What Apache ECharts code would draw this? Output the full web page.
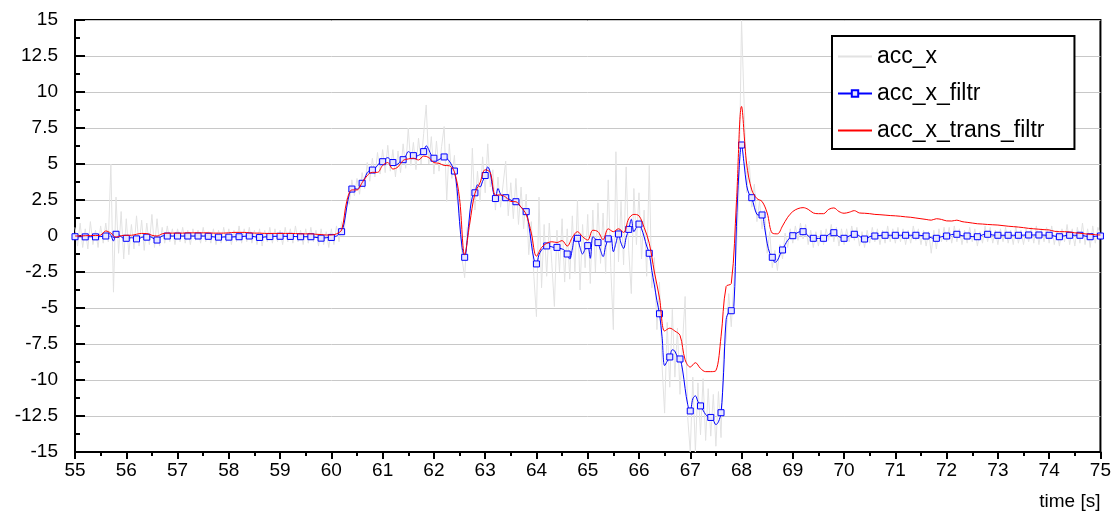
<!DOCTYPE html>
<html>
<head>
<meta charset="utf-8">
<script src="https://cdn.jsdelivr.net/npm/echarts@6/dist/echarts.min.js"></script>
<style>
html,body{margin:0;padding:0;background:#fff;}
#chart{width:1114px;height:516px;}
</style>
</head>
<body>
<div id="chart"></div>
<script>
// ---- data ----
const seriesNames = ['acc_x', 'acc_x_filtr', 'acc_x_trans_filtr'];
const xTicks = [55, 56, 57, 58, 59, 60, 61, 62, 63, 64, 65, 66, 67, 68, 69, 70, 71, 72, 73, 74, 75];
const yTicks = [-15, -12.5, -10, -7.5, -5, -2.5, 0, 2.5, 5, 7.5, 10, 12.5, 15];

const sampleStart = 55;       // s
const rawStep = 0.05;         // s, acc_x and acc_x_filtr
const transStep = 0.1;        // s, acc_x_trans_filtr
const markerEvery = 4;        // acc_x_filtr markers every 0.2 s

// acc_x (raw), one row per second, 0.05 s apart
const accX = [
  0.6,-0.7,0.9,-0.8,0.5,-0.9,1.0,-0.6,0.4,-0.8,0.7,-0.5,0.9,-0.4,5.0,-3.9,2.7,-1.2,1.7,-1.6,
  1.2,-1.3,0.8,-0.9,1.4,-0.7,1.1,-1.0,0.9,-0.6,1.5,-0.8,1.2,-0.7,0.6,-0.5,0.7,-0.4,0.5,-0.6,
  0.5,-0.4,0.6,-0.5,0.4,-0.6,0.5,-0.3,0.4,-0.5,0.6,-0.4,0.3,-0.5,0.5,-0.6,0.4,-0.5,0.6,-0.4,
  0.5,-0.6,0.4,-0.4,0.7,-0.5,0.5,-0.4,0.6,-0.5,0.4,-0.6,0.5,-0.7,0.4,-0.4,0.6,-0.5,0.5,-0.4,
  0.4,-0.6,0.6,-0.4,0.5,-0.5,0.7,-0.4,0.4,-0.6,0.5,-0.5,0.6,-0.4,0.4,-0.7,0.5,-0.6,0.3,-0.8,
  0.5,-0.6,0.7,-0.4,1.0,0.2,2.6,2.2,3.9,2.8,4.0,2.9,4.4,3.3,5.1,3.8,5.4,4.1,5.8,4.3,
  6.0,4.4,6.3,4.5,6.0,4.1,5.9,4.4,6.4,4.7,7.5,4.9,6.5,4.6,6.8,5.0,7.1,9.1,5.0,6.9,
  4.3,6.6,4.5,6.2,7.6,2.4,6.4,4.0,5.6,2.5,1.8,-1.6,-2.9,0.6,0.8,6.1,1.8,4.5,2.4,5.5,
  3.0,6.4,3.4,4.6,1.8,4.1,2.0,3.6,5.2,1.4,3.7,1.2,4.0,0.8,3.4,0.5,2.9,-1.3,1.0,-2.8,
  -5.6,2.7,-3.6,0.8,-2.8,0.9,-1.9,-4.9,0.4,-2.5,1.2,-3.2,0.5,-3.0,1.4,-2.6,2.5,-3.75,0.8,-2.2,
  1.5,-3.3,1.8,-2.5,2.3,-1.9,1.6,-2.6,3.9,-2.2,-6.5,5.85,-1.8,2.4,-2.0,4.8,-1.0,-4.0,3.3,-0.6,
  3.0,-1.6,1.8,-2.8,4.9,-3.6,-1.5,-6.5,-3.2,-9.0,-12.3,-6.0,-10.5,-5.1,-9.8,-6.4,-11.0,-7.4,-4.2,-12.6,
  -15.0,-9.8,-15.0,-10.2,-13.8,-9.9,-14.2,-10.6,-13.9,-11.0,-14.6,-10.8,-14.0,-8.0,-7.2,-4.0,-6.3,-3.2,-1.0,3.0,
  15.0,9.2,3.0,5.2,2.0,3.6,1.0,2.4,0.5,1.8,-1.2,0.3,-2.2,-1.0,-2.4,-0.6,-1.6,0.2,-0.8,0.5,
  -0.5,0.7,-0.3,0.9,-0.2,0.8,-0.6,0.4,-0.8,0.3,-0.7,0.4,-0.6,0.5,-0.3,0.8,-0.4,0.6,-0.7,0.5,
  -0.6,0.5,-0.4,0.7,-0.3,0.6,-0.7,0.3,-0.8,0.4,-0.5,0.6,-0.4,0.5,-0.6,0.4,-0.5,0.7,-0.4,0.5,
  -0.5,0.6,-0.4,0.5,-0.6,0.4,-0.5,0.7,-0.3,0.5,-0.6,0.4,-0.7,0.3,-1.2,0.4,-0.9,0.5,-0.4,0.6,
  -0.4,0.6,-0.5,0.7,-0.4,0.5,-0.6,0.4,-0.5,0.6,-0.4,0.5,-0.7,0.3,-0.5,0.7,-0.4,0.6,-0.5,0.4,
  -0.6,0.5,-0.4,0.6,-0.5,0.4,-0.6,0.7,-0.5,0.4,-0.6,0.5,-0.4,0.6,-0.5,0.7,-0.6,0.5,-0.4,0.6,
  -0.5,0.7,-0.6,0.4,-0.7,0.5,-0.4,0.8,-0.6,0.5,-0.7,0.6,-0.5,0.9,-0.6,0.5,-0.8,0.7,-0.5,0.6,
  0.1
];

// acc_x_filtr, 0.05 s apart
const accXFiltr = [
  -0.05,-0.05,-0.05,-0.05,-0.06,-0.05,-0.05,-0.05,-0.06,-0.05,-0.04,-0.02,0.0,0.2,0.05,-0.35,0.12,0.1,-0.05,-0.15,
  -0.16,-0.15,-0.12,-0.15,-0.2,-0.18,-0.1,-0.06,-0.08,-0.05,-0.1,-0.22,-0.28,-0.12,0.0,0.02,0.0,0.0,0.0,0.0,
  0,0,0,0,0,0,0,0,0,0,0,0,-0.02,-0.04,-0.06,-0.08,-0.08,-0.08,-0.07,-0.06,
  -0.08,-0.07,-0.06,-0.05,-0.05,-0.04,-0.02,-0.01,0,-0.02,-0.05,-0.08,-0.1,-0.09,-0.07,-0.05,-0.04,-0.03,-0.02,-0.02,
  -0.02,-0.02,-0.02,-0.03,-0.03,-0.03,-0.04,-0.05,-0.05,-0.05,-0.05,-0.05,-0.05,-0.07,-0.1,-0.12,-0.15,-0.14,-0.12,-0.1,
  -0.1,-0.05,0.0,0.15,0.3,0.9,2.0,2.9,3.26,3.3,3.25,3.4,3.66,4.0,4.4,4.55,4.58,4.7,4.9,5.1,
  5.16,5.35,5.44,5.3,5.1,4.93,5.0,5.2,5.3,5.55,5.86,5.75,5.58,5.55,5.6,5.7,5.86,6.27,6.0,5.6,
  5.4,5.25,5.3,5.45,5.49,5.4,5.2,4.9,4.51,3.3,1.0,-0.8,-1.48,-0.3,1.6,2.7,3.0,3.55,3.4,3.8,
  4.2,4.8,4.4,3.2,2.6,3.3,2.9,2.7,2.66,2.6,2.5,2.4,2.38,2.2,2.0,1.85,1.69,0.8,-0.5,-1.6,
  -1.94,-1.3,-0.97,-0.8,-0.69,-0.7,-0.75,-0.8,-0.79,-0.85,-0.9,-1.0,-1.25,-1.6,-0.9,-0.05,-0.16,-0.8,-1.25,-0.9,
  -0.67,-1.55,-0.05,-0.2,-0.46,-1.0,-1.43,-0.7,-0.2,0.0,-1.09,-0.5,0.14,-0.5,-0.86,-0.1,0.46,1.16,0.3,0.6,
  0.83,0.5,-0.05,-0.7,-1.2,-2.4,-3.4,-4.5,-5.4,-7.0,-9.0,-8.7,-8.4,-7.9,-8.0,-8.4,-8.54,-9.3,-10.6,-11.7,
  -12.15,-11.3,-11.1,-11.5,-11.8,-12.1,-12.4,-12.55,-12.6,-12.8,-13.1,-12.9,-12.27,-9.5,-5.8,-5.3,-5.19,-4.9,0.65,4.5,
  6.32,5.0,3.5,2.9,2.66,2.0,1.5,1.45,1.46,0.6,-0.5,-1.2,-1.48,-1.83,-1.7,-1.3,-0.97,-0.6,-0.3,-0.1,
  0.02,0.15,0.25,0.3,0.3,0.2,0.0,-0.12,-0.16,-0.17,-0.17,-0.16,-0.16,-0.05,0.1,0.2,0.23,0.1,-0.05,-0.1,
  -0.16,-0.1,0.0,0.08,0.12,0.1,0.0,-0.15,-0.21,-0.15,-0.05,0.0,0.0,0.02,0.04,0.05,0.05,0.05,0.05,0.05,
  0.05,0.05,0.05,0.05,0.05,0.05,0.05,0.05,0.05,0.05,0.04,0.02,0.0,-0.05,-0.12,-0.16,-0.16,-0.1,-0.05,-0.02,
  0.0,0.05,0.1,0.12,0.12,0.08,0.02,0.0,0.0,-0.02,-0.04,-0.05,-0.05,0.0,0.08,0.12,0.12,0.1,0.07,0.05,
  0.05,0.05,0.05,0.05,0.05,0.05,0.05,0.05,0.05,0.06,0.06,0.07,0.07,0.07,0.07,0.07,0.07,0.07,0.06,0.05,
  0.05,0.03,0.0,-0.04,-0.05,-0.02,0.02,0.04,0.05,0.05,0.05,0.05,0.05,0.03,0.0,-0.04,-0.05,-0.04,-0.02,-0.01,
  0.0
];

// acc_x_trans_filtr, 0.1 s apart
const accXTransFiltr = [
  0.0,0.0,0.02,0.03,0.03,0.06,0.35,0.2,-0.08,0.02,
  0.05,0.05,0.12,0.18,0.17,0.05,0.0,0.15,0.2,0.2,
  0.2,0.2,0.22,0.22,0.22,0.22,0.22,0.2,0.2,0.2,
  0.22,0.25,0.25,0.25,0.22,0.2,0.2,0.18,0.18,0.18,
  0.18,0.18,0.18,0.17,0.15,0.15,0.15,0.12,0.1,0.07,
  0.07,0.15,0.42,2.4,3.2,3.2,3.7,4.2,4.42,4.42,
  4.9,5.1,4.65,4.8,5.25,5.35,5.4,5.28,5.55,5.45,
  5.1,5.05,4.9,4.88,4.45,2.6,-1.3,0.9,2.95,3.7,
  4.6,4.4,2.85,2.85,2.7,2.4,2.38,2.0,1.5,0.2,
  -1.4,-0.8,-0.5,-0.4,-0.45,-0.32,-0.7,-0.1,0.3,-0.05,
  -0.28,0.4,0.3,-0.25,0.5,0.3,0.5,0.25,1.2,1.5,
  1.4,0.6,-0.5,-2.5,-4.3,-6.6,-6.4,-6.6,-6.9,-8.6,
  -9.1,-8.8,-9.2,-9.42,-9.42,-9.35,-7.0,-3.5,-3.3,2.3,
  9.0,5.0,3.2,2.6,2.4,1.6,0.2,0.15,0.7,1.3,
  1.7,1.9,1.97,1.85,1.6,1.55,1.55,1.85,1.95,1.7,
  1.58,1.65,1.76,1.6,1.58,1.55,1.5,1.48,1.45,1.42,
  1.4,1.37,1.33,1.3,1.25,1.2,1.15,1.1,1.2,1.15,
  1.05,1.04,1.1,1.0,0.95,0.9,0.85,0.83,0.8,0.78,
  0.76,0.72,0.68,0.65,0.62,0.58,0.53,0.5,0.47,0.44,
  0.42,0.33,0.3,0.3,0.28,0.22,0.19,0.15,0.12,0.09,
  0.07
];

// ---- build library data ----
function timed(values, step) {
  return values.map((v, i) => [+(sampleStart + i * step).toFixed(3), v]);
}
const rawData = timed(accX, rawStep);
const filtrData = timed(accXFiltr, rawStep).map((p, i) =>
  i % markerEvery === 0 ? { value: p } : { value: p, symbol: 'none' });
const transData = timed(accXTransFiltr, transStep);

const FONT = 'Liberation Sans, Arial, sans-serif';
const noSymbol = { color: 'rgba(0,0,0,0)', borderColor: 'rgba(0,0,0,0)', borderWidth: 0, opacity: 0 };
const chart = echarts.init(document.getElementById('chart'), null, { renderer: 'canvas' });
chart.setOption({
  animation: false,
  backgroundColor: '#fff',
  grid: {
    left: 75, right: 11, top: 20, bottom: 64,
    show: true, borderColor: '#000', borderWidth: 2, backgroundColor: 'transparent'
  },
  legend: {
    data: [
      { name: seriesNames[0], itemStyle: noSymbol },
      { name: seriesNames[1] },
      { name: seriesNames[2], itemStyle: noSymbol }
    ],
    orient: 'vertical',
    left: 832, top: 36,
    backgroundColor: '#fff',
    borderColor: '#000', borderWidth: 2, borderRadius: 0,
    padding: [9, 30, 7, 5],
    itemWidth: 34, itemHeight: 8, itemGap: 14,
    textStyle: { fontFamily: FONT, fontSize: 23, color: '#000' },
    selectedMode: false
  },
  xAxis: {
    type: 'value', min: xTicks[0], max: xTicks[xTicks.length - 1], interval: 1,
    axisLine: { show: true, onZero: false, lineStyle: { color: '#000', width: 2 } },
    axisTick: { show: true, inside: false, length: 7, lineStyle: { color: '#000', width: 2 } },
    minorTick: { show: true, splitNumber: 2, length: 4, lineStyle: { color: '#000', width: 2 } },
    splitLine: { show: false },
    axisLabel: { color: '#000', fontFamily: FONT, fontSize: 19, margin: 9 },
    name: 'time [s]', nameLocation: 'end', nameGap: 0,
    nameTextStyle: { color: '#000', fontFamily: FONT, fontSize: 19, align: 'right', verticalAlign: 'top', padding: [40, 0, 0, 0] }
  },
  yAxis: {
    type: 'value', min: yTicks[0], max: yTicks[yTicks.length - 1], interval: 2.5,
    axisLine: { show: true, onZero: false, lineStyle: { color: '#000', width: 2 } },
    axisTick: { show: true, inside: true, length: 10, lineStyle: { color: '#000', width: 2 } },
    minorTick: { show: true, splitNumber: 2, length: 5, lineStyle: { color: '#000', width: 2 } },
    splitLine: { show: true, lineStyle: { color: '#c8c8c8', width: 1 } },
    axisLabel: { color: '#000', fontFamily: FONT, fontSize: 19, margin: 17 }
  },
  series: [
    {
      name: seriesNames[0], type: 'line', data: rawData,
      symbol: 'none', showSymbol: false,
      lineStyle: { color: '#e2e2e2', width: 1 },
      itemStyle: { color: '#e2e2e2' },
      emphasis: { disabled: true }, z: 1
    },
    {
      name: seriesNames[1], type: 'line', data: filtrData,
      smooth: 0.35, symbol: 'rect', symbolSize: 6, showSymbol: true, showAllSymbol: true,
      lineStyle: { color: '#0000ff', width: 1 },
      itemStyle: { color: '#e6e6ff', borderColor: '#0000ff', borderWidth: 1 },
      emphasis: { disabled: true }, z: 2
    },
    {
      name: seriesNames[2], type: 'line', data: transData,
      smooth: 0.35, symbol: 'none', showSymbol: false,
      lineStyle: { color: '#ff0000', width: 1 },
      itemStyle: { color: '#ff0000' },
      emphasis: { disabled: true }, z: 3
    }
  ]
});
</script>
</body>
</html>
